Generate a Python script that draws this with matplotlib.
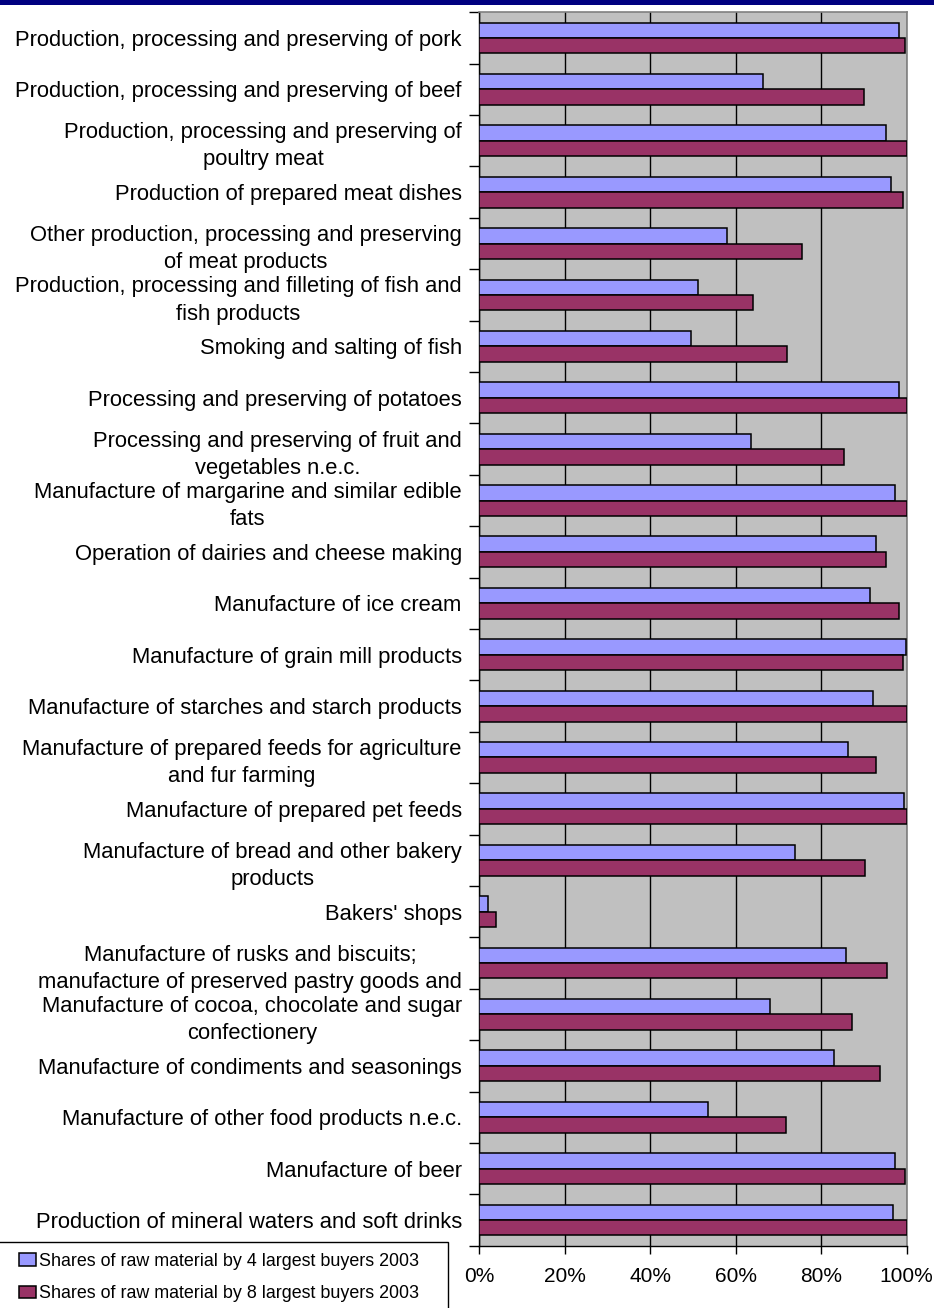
import matplotlib
matplotlib.use("Agg")
import matplotlib.pyplot as plt
from matplotlib.patches import Rectangle
from matplotlib.ticker import FixedLocator, PercentFormatter
import numpy as np

plt.rcParams['font.family'] = ['Liberation Sans', 'DejaVu Sans']

categories = [
    "Production, processing and preserving of pork",
    "Production, processing and preserving of beef",
    "Production, processing and preserving of\npoultry meat",
    "Production of prepared meat dishes",
    "Other production, processing and preserving\nof meat products",
    "Production, processing and filleting of fish and\nfish products",
    "Smoking and salting of fish",
    "Processing and preserving of potatoes",
    "Processing and preserving of fruit and\nvegetables n.e.c.",
    "Manufacture of margarine and similar edible\nfats",
    "Operation of dairies and cheese making",
    "Manufacture of ice cream",
    "Manufacture of grain mill products",
    "Manufacture of starches and starch products",
    "Manufacture of prepared feeds for agriculture\nand fur farming",
    "Manufacture of prepared pet feeds",
    "Manufacture of bread and other bakery\nproducts",
    "Bakers' shops",
    "Manufacture of rusks and biscuits;\nmanufacture of preserved pastry goods and",
    "Manufacture of cocoa, chocolate and sugar\nconfectionery",
    "Manufacture of condiments and seasonings",
    "Manufacture of other food products n.e.c.",
    "Manufacture of beer",
    "Production of mineral waters and soft drinks",
]

# Share of raw material bought by the largest buyers, percent
share_top4 = [98.1, 66.3, 95.1, 96.3, 57.9, 51.2, 49.5, 98.1, 63.6, 97.3, 92.8, 91.4,
              99.8, 92.0, 86.3, 99.4, 73.8, 2.1, 85.8, 68.1, 83.1, 53.5, 97.3, 96.9]
share_top8 = [99.5, 89.9, 100.0, 99.1, 75.6, 64.1, 72.1, 100.0, 85.3, 100.0, 95.1, 98.2,
              99.1, 100.0, 92.9, 100.0, 90.2, 4.0, 95.5, 87.1, 93.8, 71.7, 99.5, 100.0]

series_labels = ["Shares of raw material by 4 largest buyers 2003",
                 "Shares of raw material by 8 largest buyers 2003"]
x_ticks = [0, 20, 40, 60, 80, 100]

W, H = 934, 1308
fig = plt.figure(figsize=(W / 100, H / 100), dpi=100)
fig.patch.set_facecolor("white")

# navy banner along the top edge
fig.patches.append(Rectangle((0, 1 - 4.5 / H), 1, 4.5 / H, transform=fig.transFigure,
                             facecolor="#000080", edgecolor="none", zorder=0))

ax = fig.add_axes([479.3 / W, 1 - 1245.7 / H, (906.7 - 479.3) / W, (1245.7 - 12.3) / H])
ax.set_facecolor("#C0C0C0")

y = np.arange(len(categories))
bh = 0.3
b1 = ax.barh(y - bh / 2, share_top4, height=bh, color="#9999FF", edgecolor="black",
             linewidth=1.1, zorder=3, label=series_labels[0])
b2 = ax.barh(y + bh / 2, share_top8, height=bh, color="#993366", edgecolor="black",
             linewidth=1.1, zorder=3, label=series_labels[1])

ax.set_xlim(0, 100)
ax.set_ylim(len(categories) - 0.5, -0.5)

ax.set_xticks(x_ticks)
ax.xaxis.set_major_formatter(PercentFormatter(decimals=0))
ax.tick_params(axis="x", direction="out", length=6, width=1, labelsize=15, pad=9.5,
               color="black")
ax.xaxis.grid(True, color="black", linewidth=1)
ax.set_axisbelow(True)

ax.set_yticks(y)
ax.set_yticklabels(categories, fontsize=15.8, multialignment="center", linespacing=1.38)
ax.tick_params(axis="y", which="major", length=0, pad=12.6)
ax.yaxis.set_minor_locator(FixedLocator(np.arange(-0.5, len(categories), 1.0)))
ax.tick_params(axis="y", which="minor", direction="out", length=7.5, width=1, color="black")

for side in ("top", "right"):
    ax.spines[side].set_color("#808080")
    ax.spines[side].set_linewidth(1.2)
for side in ("left", "bottom"):
    ax.spines[side].set_color("black")
    ax.spines[side].set_linewidth(1)

# legend frame running off the lower-left corner
fig.patches.append(Rectangle((-2 / W, -5 / H), 449.7 / W, (1308 - 1242 + 5) / H,
                             transform=fig.transFigure, facecolor="white",
                             edgecolor="black", linewidth=1, zorder=1))
leg = fig.legend(handles=[b1, b2], labels=series_labels, loc="center left",
                 bbox_to_anchor=(19 / W, 1 - 1277.5 / H), frameon=False, fontsize=12.9,
                 handlelength=0.95, handleheight=0.7, handletextpad=0.15,
                 labelspacing=0.85, borderaxespad=0, borderpad=0)
leg.set_zorder(2)

fig.savefig("out.png", dpi=100)
